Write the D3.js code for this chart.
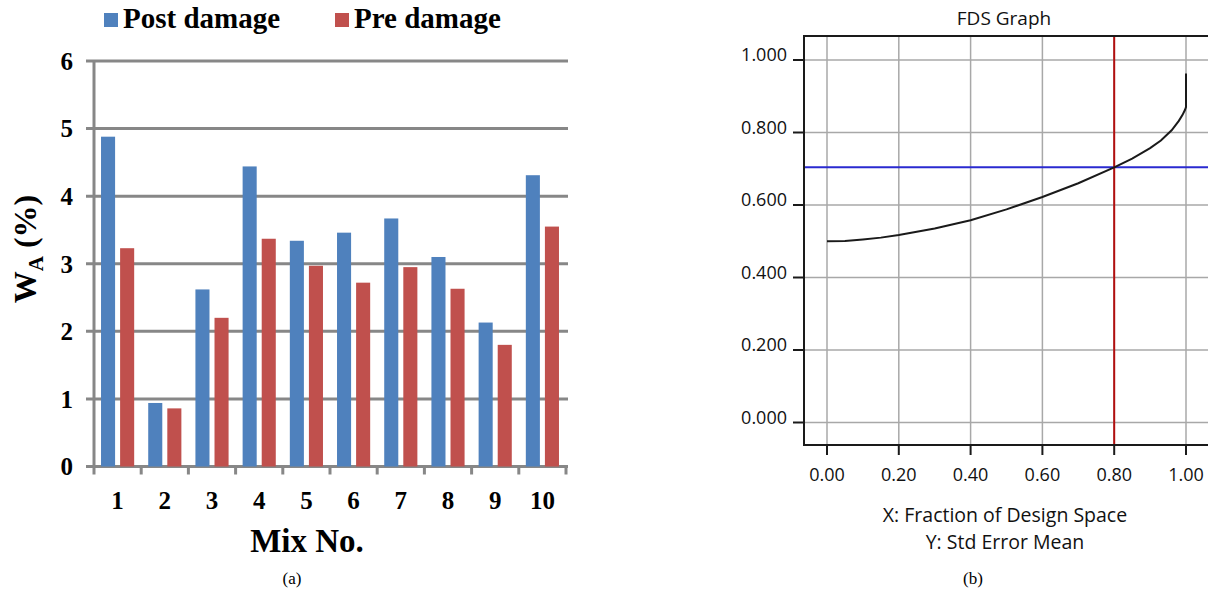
<!DOCTYPE html>
<html>
<head>
<meta charset="utf-8">
<script src="https://cdn.jsdelivr.net/npm/d3@7"></script>
<style>
  html, body { margin: 0; padding: 0; background: #fff; }
  svg { display: block; }
</style>
</head>
<body>
<svg id="chart" width="1208" height="596"></svg>
<script>
// ---------- Data: panel (a) ----------
const mixes = ["1", "2", "3", "4", "5", "6", "7", "8", "9", "10"];
const seriesNames = ["Post damage", "Pre damage"];
const postDamage = [4.88, 0.94, 2.62, 4.44, 3.34, 3.46, 3.67, 3.10, 2.13, 4.31];
const preDamage  = [3.23, 0.86, 2.20, 3.37, 2.97, 2.72, 2.95, 2.63, 1.80, 3.55];
const yTicksA = [0, 1, 2, 3, 4, 5, 6];

// ---------- Data: panel (b) ----------
const fdsX = [0, 0.05, 0.1, 0.15, 0.2, 0.3, 0.4, 0.5, 0.6, 0.7, 0.8, 0.85, 0.9, 0.93, 0.96, 0.98, 0.99, 0.997, 1.0, 1.0];
const fdsY = [0.500, 0.501, 0.505, 0.510, 0.517, 0.535, 0.558, 0.588, 0.622, 0.660, 0.704, 0.728, 0.757, 0.778, 0.806, 0.832, 0.848, 0.862, 0.870, 0.963];
const xTicksB = [0, 0.2, 0.4, 0.6, 0.8, 1.0];
const yTicksB = [0, 0.2, 0.4, 0.6, 0.8, 1.0];
const thresholdY = 0.704;
const thresholdX = 0.80;

const svg = d3.select("#chart");

// =============== Panel (a) ===============
(function () {
  const serif = "'Liberation Serif', 'Times New Roman', serif";
  const colors = { "Post damage": "#4F81BD", "Pre damage": "#C0504D" };
  const left = 94, right = 566, top = 61, bottom = 466.5;
  const g = svg.append("g");

  const x0 = d3.scaleBand().domain(mixes).range([left, right]).paddingInner(0).paddingOuter(0);
  const x1 = d3.scaleBand().domain(seriesNames).range([0, x0.bandwidth()])
    .paddingInner(0.263).paddingOuter(0.368);
  const y = d3.scaleLinear().domain([0, 6]).range([bottom, top]);

  // gridlines
  g.append("g").selectAll("line").data(yTicksA).join("line")
    .attr("x1", left - 8).attr("x2", right + 2)
    .attr("y1", d => y(d)).attr("y2", d => y(d))
    .attr("stroke", "#878787").attr("stroke-width", 3);

  // y-axis line
  g.append("line").attr("x1", left).attr("x2", left).attr("y1", top).attr("y2", bottom)
    .attr("stroke", "#878787").attr("stroke-width", 3);

  // x ticks (category boundaries)
  const bounds = mixes.map(m => x0(m)).concat([right]);
  g.append("g").selectAll("line").data(bounds).join("line")
    .attr("x1", d => d).attr("x2", d => d).attr("y1", bottom).attr("y2", bottom + 8)
    .attr("stroke", "#878787").attr("stroke-width", 3);

  // bars
  const rows = mixes.map((m, i) => ({ mix: m, vals: [
    { s: "Post damage", v: postDamage[i] }, { s: "Pre damage", v: preDamage[i] } ] }));
  g.append("g").selectAll("g").data(rows).join("g")
    .attr("transform", d => `translate(${x0(d.mix)},0)`)
    .selectAll("rect").data(d => d.vals).join("rect")
    .attr("x", d => x1(d.s)).attr("width", x1.bandwidth())
    .attr("y", d => y(d.v)).attr("height", d => y(0) - y(d.v))
    .attr("fill", d => colors[d.s]);

  // y tick labels
  g.append("g").selectAll("text").data(yTicksA).join("text")
    .attr("x", 73).attr("y", d => y(d)).attr("dy", "0.35em")
    .attr("text-anchor", "end")
    .attr("font-family", serif).attr("font-weight", "bold").attr("font-size", 25)
    .attr("fill", "#000").text(d => d);

  // x tick labels
  g.append("g").selectAll("text").data(mixes).join("text")
    .attr("x", d => x0(d) + x0.bandwidth() / 2).attr("y", 509)
    .attr("text-anchor", "middle")
    .attr("font-family", serif).attr("font-weight", "bold").attr("font-size", 25)
    .attr("fill", "#000").text(d => d);

  // x title
  g.append("text").attr("x", 307).attr("y", 552).attr("text-anchor", "middle")
    .attr("font-family", serif).attr("font-weight", "bold").attr("font-size", 33)
    .attr("fill", "#000").text("Mix No.");

  // y title
  const yt = g.append("text").attr("transform", "translate(36,249) rotate(-90)")
    .attr("text-anchor", "middle")
    .attr("font-family", serif).attr("font-weight", "bold").attr("font-size", 32)
    .attr("fill", "#000");
  yt.append("tspan").text("W");
  yt.append("tspan").attr("font-size", 21).attr("dy", 7).text("A");
  yt.append("tspan").attr("dy", -7).text(" (%)");

  // legend
  const legX = [104, 335];
  const lg = g.append("g").selectAll("g").data(seriesNames).join("g")
    .attr("transform", (d, i) => `translate(${legX[i]},13)`);
  lg.append("rect").attr("width", 14).attr("height", 14).attr("fill", d => colors[d]);
  lg.append("text").attr("x", 19).attr("y", 15)
    .attr("font-family", serif).attr("font-weight", "bold").attr("font-size", 29)
    .attr("fill", "#000").text(d => d);

  // caption
  g.append("text").attr("x", 292).attr("y", 584).attr("text-anchor", "middle")
    .attr("font-family", serif).attr("font-size", 17).attr("fill", "#000").text("(a)");
})();

// =============== Panel (b) ===============
(function () {
  const sans = "'Open Sans', 'Noto Sans', sans-serif";
  const fL = 804, fT = 36, fB = 445, fR = 1230;
  const g = svg.append("g");
  const x = d3.scaleLinear().domain([0, 1]).range([827, 1186]);
  const y = d3.scaleLinear().domain([0, 1]).range([422.5, 60]);

  // title
  g.append("text").attr("x", 1004).attr("y", 25).attr("text-anchor", "middle")
    .attr("font-family", sans).attr("font-size", 19).attr("fill", "#111").text("FDS Graph");

  // gridlines
  g.append("g").selectAll("line").data(yTicksB).join("line")
    .attr("x1", fL).attr("x2", fR).attr("y1", d => y(d)).attr("y2", d => y(d))
    .attr("stroke", "#a8a8a8").attr("stroke-width", 1.5);
  g.append("g").selectAll("line").data(xTicksB).join("line")
    .attr("x1", d => x(d)).attr("x2", d => x(d)).attr("y1", fT).attr("y2", fB)
    .attr("stroke", "#a8a8a8").attr("stroke-width", 1.5);

  // threshold lines
  g.append("line").attr("x1", fL).attr("x2", fR)
    .attr("y1", y(thresholdY)).attr("y2", y(thresholdY))
    .attr("stroke", "#2a2ad0").attr("stroke-width", 2);
  g.append("line").attr("x1", x(thresholdX)).attr("x2", x(thresholdX))
    .attr("y1", fT).attr("y2", fB)
    .attr("stroke", "#b20f0f").attr("stroke-width", 2);

  // frame
  g.append("path").attr("d", `M${fR},${fT}H${fL}V${fB}H${fR}`)
    .attr("fill", "none").attr("stroke", "#1a1a1a").attr("stroke-width", 2);

  // ticks
  g.append("g").selectAll("line").data(yTicksB).join("line")
    .attr("x1", fL - 11).attr("x2", fL).attr("y1", d => y(d)).attr("y2", d => y(d))
    .attr("stroke", "#1a1a1a").attr("stroke-width", 2);
  g.append("g").selectAll("line").data(xTicksB).join("line")
    .attr("x1", d => x(d)).attr("x2", d => x(d)).attr("y1", fB).attr("y2", fB + 10)
    .attr("stroke", "#1a1a1a").attr("stroke-width", 2);

  // tick labels
  g.append("g").selectAll("text").data(yTicksB).join("text")
    .attr("x", 787).attr("y", d => y(d) + 1).attr("text-anchor", "end")
    .attr("font-family", sans).attr("font-size", 18).attr("fill", "#111")
    .text(d => d3.format(".3f")(d));
  g.append("g").selectAll("text").data(xTicksB).join("text")
    .attr("x", d => x(d)).attr("y", 481).attr("text-anchor", "middle")
    .attr("font-family", sans).attr("font-size", 18).attr("fill", "#111")
    .text(d => d3.format(".2f")(d));

  // curve
  const pts = fdsX.map((v, i) => [v, fdsY[i]]);
  g.append("path").datum(pts)
    .attr("d", d3.line().x(d => x(d[0])).y(d => y(d[1])).curve(d3.curveLinear))
    .attr("fill", "none").attr("stroke", "#1a1a1a").attr("stroke-width", 2);

  // axis descriptions
  g.append("text").attr("x", 1005).attr("y", 522).attr("text-anchor", "middle")
    .attr("font-family", sans).attr("font-size", 19.5).attr("fill", "#111")
    .text("X: Fraction of Design Space");
  g.append("text").attr("x", 1005).attr("y", 549).attr("text-anchor", "middle")
    .attr("font-family", sans).attr("font-size", 19.5).attr("fill", "#111")
    .text("Y: Std Error Mean");

  // caption
  g.append("text").attr("x", 973).attr("y", 584).attr("text-anchor", "middle")
    .attr("font-family", "'Liberation Serif', 'Times New Roman', serif")
    .attr("font-size", 17).attr("fill", "#000").text("(b)");
})();
</script>
</body>
</html>
